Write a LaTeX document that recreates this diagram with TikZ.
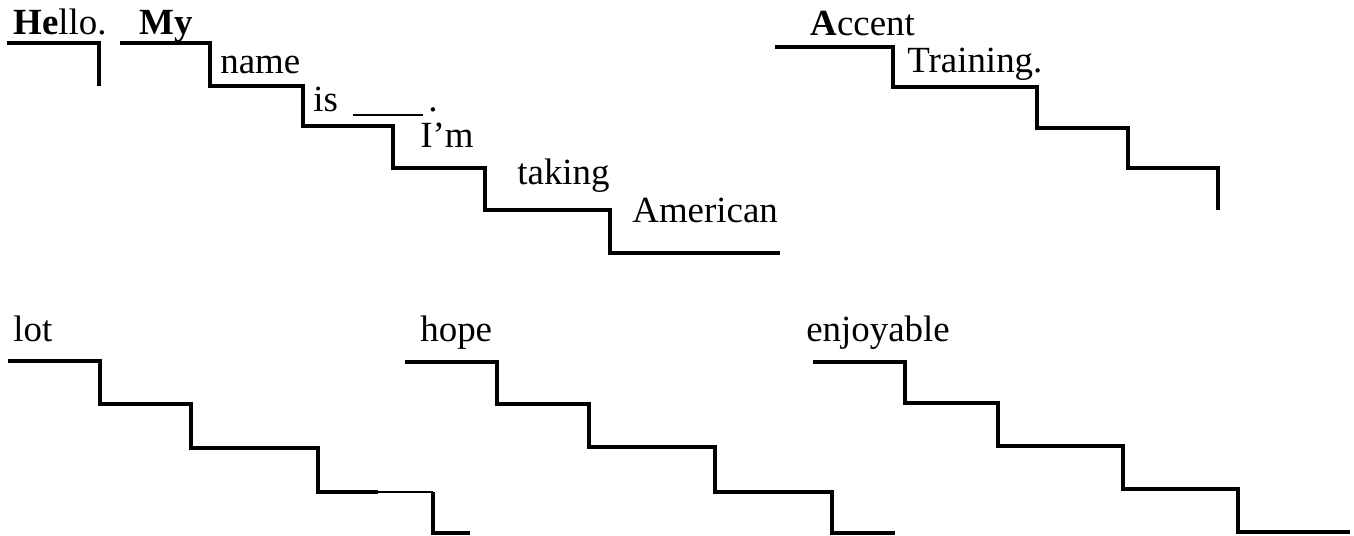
\documentclass[tikz,border=0pt]{standalone}
\usepackage{fontspec}
\setmainfont{Liberation Serif}
\usepackage{tikz}

\tikzset{
  stair/.style={line width=2.2pt},
  thinstair/.style={line width=1pt},
  word/.style={anchor=base west, inner sep=0pt, font=\fontsize{21}{25}\selectfont}
}

\begin{document}
\begin{tikzpicture}[x=0.02cm,y=-0.02cm]
\useasboundingbox (0,0) rectangle (1354,536);

% First sentence
\node (hello) [word] at (13,35) {\textbf{He}llo.};
\node (my) [word] at (139,35) {\textbf{My}};
\node (name) [word] at (220,74) {name};
\node (is) [word] at (313,112) {is};
\node (dot) [word] at (428,112) {.};
\node (im) [word] at (420,148) {I'm};
\node (taking) [word] at (517,185) {taking};
\node (american) [word] at (632,223) {American};
\node (accent) [word] at (810,36) {\textbf{A}ccent};
\node (training) [word] at (907,73) {Training.};

\draw[stair] (7,43) -- (99,43) -- (99,86);
\draw[stair] (120,43) -| (210,86) -| (303,126) -| (393,168) -| (485,210)
  -| (610,253) -- (780,253);
\draw[thinstair] (353,115) -- (423,115);
\draw[stair] (775,47) -| (893,87) -| (1037,128) -| (1128,168) -| (1218,210);

% Practice words
\node (lot) [word] at (13,342) {lot};
\node (hope) [word] at (420,342) {hope};
\node (enjoyable) [word] at (806,342) {enjoyable};

\draw[stair] (8,361) -| (100,404) -| (191,448) -| (318,492) -- (378,492);
\draw[thinstair] (378,492) -- (433,492);
\draw[stair] (433,492) -- (433,533) -- (470,533);
\draw[stair] (405,362) -| (497,404) -| (589,447) -| (715,492) -| (832,533) -- (895,533);
\draw[stair] (813,362) -| (905,403) -| (998,446) -| (1123,489) -| (1238,532) -- (1350,532);
\end{tikzpicture}
\end{document}
